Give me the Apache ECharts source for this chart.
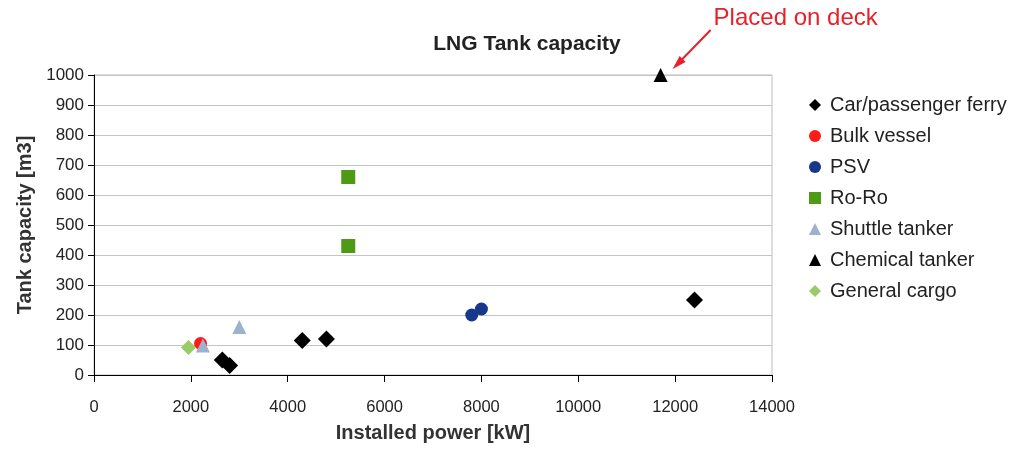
<!DOCTYPE html>
<html><head><meta charset="utf-8">
<script src="https://cdn.jsdelivr.net/npm/echarts@6/dist/echarts.min.js"></script>
<style>html,body{margin:0;padding:0;background:#fff}#c{width:1017px;height:452px}</style>
</head><body><div id="c"></div>
<script>
const seriesNames = ['Car/passenger ferry','Bulk vessel','PSV','Ro-Ro','Shuttle tanker','Chemical tanker','General cargo'];
const ferry = [[2650,50],[2800,32],[4300,115],[4800,120],[12400,250]];
const bulk = [[2200,105]];
const psv = [[7800,200],[8000,220]];
const roro = [[5250,660],[5250,430]];
const shuttle = [[2250,98],[3000,160]];
const chemical = [[11700,1000]];
const general = [[1950,92]];
const xTicks = {min:0,max:14000,interval:2000};
const yTicks = {min:0,max:1000,interval:100};
const titleText = 'LNG Tank capacity';
const annotation = 'Placed on deck';

const chart = echarts.init(document.getElementById('c'));
const font = 'Liberation Sans, Arial, sans-serif';
function s(name, data, symbol, size, color, z){
  return {name, type:'scatter', data, symbol, symbolSize:size, itemStyle:{color, opacity:1}, z:z||2};
}
chart.setOption({
  animation:false,
  backgroundColor:'#fff',
  title:{text:titleText,left:522,top:29,textAlign:'center',textStyle:{fontFamily:font,fontSize:21,fontWeight:'bold',color:'#222'}},
  grid:{left:94,right:245,top:75,bottom:77,show:true,borderColor:'#bdbdbd',borderWidth:1},
  legend:{orient:'vertical',left:804,top:90,itemWidth:12,itemHeight:12,itemGap:11,
    textStyle:{fontFamily:font,fontSize:20,color:'#222',padding:[0,0,0,4]},data:seriesNames},
  xAxis:{type:'value',min:xTicks.min,max:xTicks.max,interval:xTicks.interval,
    name:'Installed power [kW]',nameLocation:'middle',nameGap:48,
    nameTextStyle:{fontFamily:font,fontSize:20,fontWeight:'bold',color:'#333'},
    axisLine:{show:true,lineStyle:{color:'#000',width:1}},
    axisTick:{show:true,length:7,lineStyle:{color:'#000'}},
    axisLabel:{fontFamily:font,fontSize:16.5,color:'#222',margin:24,formatter:v=>String(v)},
    splitLine:{show:false}},
  yAxis:{type:'value',min:yTicks.min,max:yTicks.max,interval:yTicks.interval,
    name:'Tank capacity [m3]',nameLocation:'middle',nameGap:58,
    nameTextStyle:{fontFamily:font,fontSize:20,fontWeight:'bold',color:'#333'},
    axisLine:{show:true,lineStyle:{color:'#000',width:1}},
    axisTick:{show:true,length:6,lineStyle:{color:'#000'}},
    axisLabel:{fontFamily:font,fontSize:17,color:'#222',margin:10,formatter:v=>String(v)},
    splitLine:{show:true,lineStyle:{color:'#c4c4c4',width:1}}},
  series:[
    s(seriesNames[6], general, 'diamond', 15, '#99cc66', 3),
    s(seriesNames[1], bulk, 'circle', 13, '#ff1a1a', 2),
    s(seriesNames[4], shuttle, 'triangle', 14, '#9bb3cf', 4),
    s(seriesNames[0], ferry, 'diamond', 17, '#000000', 5),
    s(seriesNames[2], psv, 'circle', 13, '#17378c', 2),
    s(seriesNames[3], roro, 'rect', 14, '#4f9a14', 2),
    s(seriesNames[5], chemical, 'triangle', 14, '#000000', 2)
  ]
});
const p = chart.convertToPixel({seriesIndex:6}, chemical[0]);
chart.setOption({graphic:[
  {type:'text',left:p[0]+53,top:p[1]-69,style:{text:annotation,fontFamily:font,fontSize:24,fill:'#e8202a'}},
  {type:'line',shape:{x1:p[0]+50,y1:p[1]-45,x2:p[0]+17,y2:p[1]-11},style:{stroke:'#e8202a',lineWidth:2}},
  {type:'polygon',shape:{points:[[p[0]+12,p[1]-6],[p[0]+25,p[1]-13],[p[0]+19,p[1]-19]]},style:{fill:'#e8202a'}}
]});
</script></body></html>
